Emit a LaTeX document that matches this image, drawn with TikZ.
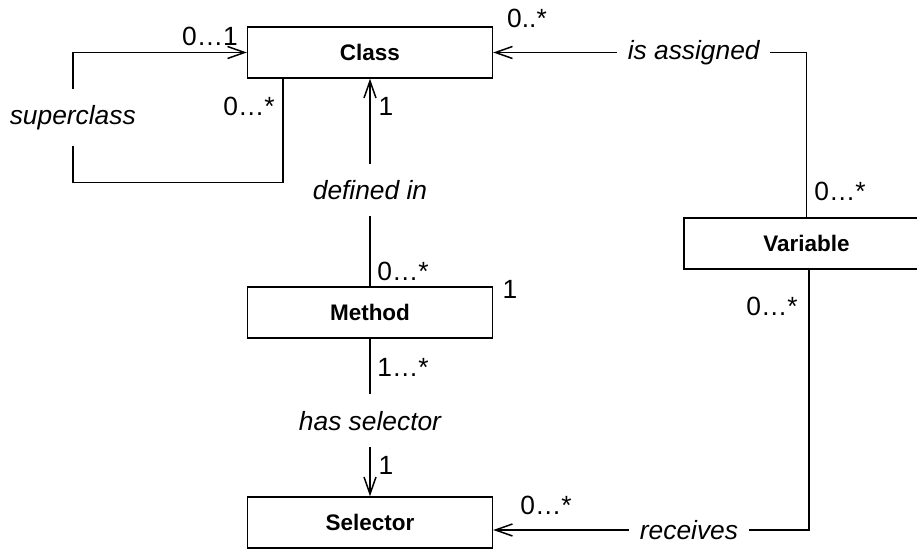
\documentclass[tikz,border=0pt]{standalone}
\usepackage{fontspec}
\setmainfont{Liberation Sans}
\usetikzlibrary{arrows.meta,positioning}

\begin{document}
\begin{tikzpicture}[x=0.02cm,y=-0.02cm,>={Straight Barb[length=3.4mm,width=2.4mm]},
 line width=0.85pt,
 cls/.style={draw, minimum width=4.9cm, minimum height=1.02cm, inner sep=0pt,
  font=\fontsize{12.8}{15}\selectfont\bfseries},
 rel/.style={fill=white, inner xsep=0.21cm, inner ysep=0.33cm,
  font=\fontsize{15}{18}\selectfont\itshape},
 mult/.style={inner sep=0pt, font=\fontsize{15}{18}\selectfont}]
 \clip (0,0) rectangle (917,550);
 \node[cls] (class) at (370,52.5) {Class};
\node[cls] (method) at (370,312.5) {Method};
\node[cls] (selector) at (370,522.5) {Selector};
\node[cls] (variable) at (806.5,243.5) {Variable};
% associations
\draw[->] ([xshift=0.72cm]class.south west) |- ++(-210,104)
  |- node[rel,pos=0.25] {superclass} (class.west);
\draw[->] (method.north) -- node[rel,pos=0.464] {defined in} (class.south);
\draw[->] (method.south) -- node[rel,pos=0.52] {has selector} (selector.north);
\draw[->] (variable.north) |- node[rel,pos=0.68] {is assigned} (class.east);
\draw[->] ([xshift=0.05cm]variable.south) |- node[rel,pos=0.69] {receives}
  ([yshift=-0.15cm]selector.east);
% multiplicities
\node[mult] (multsup) at (210,36.5) {0…1};
\node[mult] (multsub) at (249,106) {0…*};
\node[mult] (multdefcls) at (386,106) {1};
\node[mult] (multassigncls) at (527,18) {0..*};
\node[mult] (multassignvar) at (840,191) {0…*};
\node[mult] (multdefmeth) at (403,271) {0…*};
\node[mult] (multmethright) at (510,289) {1};
\node[mult] (multselmeth) at (403,367) {1…*};
\node[mult] (multselsel) at (386,465) {1};
\node[mult] (multrecsel) at (546,505) {0…*};
\node[mult] (multrecvar) at (772,306) {0…*};
\end{tikzpicture}
\end{document}
